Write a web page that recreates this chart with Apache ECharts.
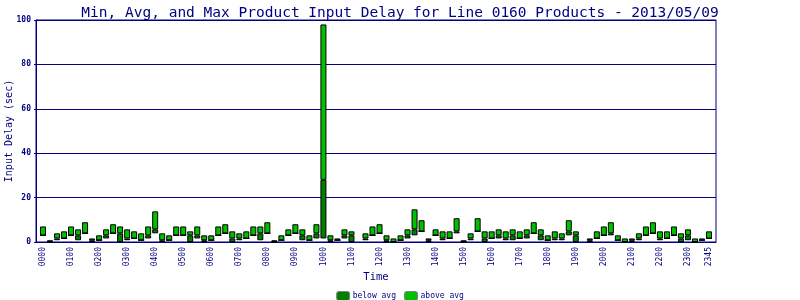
<!DOCTYPE html>
<html>
<head>
<meta charset="utf-8">
<script src="https://cdn.jsdelivr.net/npm/echarts@6/dist/echarts.min.js"></script>
<style>
html,body{margin:0;padding:0;background:#fff;}
#chart{width:800px;height:300px;}
</style>
</head>
<body>
<div id="chart"></div>
<script>
var times = ["0000","0015","0030","0045","0100","0115","0130","0145","0200","0215","0230","0245",
"0300","0315","0330","0345","0400","0415","0430","0445","0500","0515","0530","0545",
"0600","0615","0630","0645","0700","0715","0730","0745","0800","0815","0830","0845",
"0900","0915","0930","0945","1000","1015","1030","1045","1100","1115","1130","1145",
"1200","1215","1230","1245","1300","1315","1330","1345","1400","1415","1430","1445",
"1500","1515","1530","1545","1600","1615","1630","1645","1700","1715","1730","1745",
"1800","1815","1830","1845","1900","1915","1930","1945","2000","2015","2030","2045",
"2100","2115","2130","2145","2200","2215","2230","2245","2300","2315","2330","2345"];

var tickLabels = ["0000","0100","0200","0300","0400","0500","0600","0700","0800","0900","1000","1100",
"1200","1300","1400","1500","1600","1700","1800","1900","2000","2100","2200","2300","2345"];

var minVals = [3,0,0.8,1.6,3,0.8,3.9,0,0.8,1.6,3.9,0,
0.8,1.6,0.8,1.6,3.9,0,0.8,3,3,0,1.6,0,
0.8,3,3.9,0,0.8,1.6,3,0.8,3.9,0,0.8,3,
3.9,0.8,0.8,1.6,1.6,0,0.8,1.6,0,null,0.8,3,
3.9,0,0,0.8,1.6,3,4.8,0,3,0.8,1.6,3.9,
0,0.8,4.8,0,1.6,1.6,0.8,0.8,1.6,1.6,3.9,0.8,
0.8,0.8,0.8,3,0,null,0,1.6,3,3,0.8,0,
0,0.8,3,3.9,0.8,1.6,3,0,0.8,0,0.8,1.6];

var avgVals = [3,0,1.6,1.6,3,3,3.9,0.8,0.8,3,3.9,3.9,
1.6,1.6,0.8,3,5.7,0.8,0.8,3,3,3,3,0.8,
0.8,3,3.9,1.6,1.6,1.6,3,3.9,3.9,0,0.8,3,
3.9,3,0.8,3.9,28,0.8,0.8,3,3,null,1.6,3,
3.9,0.8,0,0.8,3,5.7,4.8,0.8,3,1.6,1.6,4.8,
0,1.6,4.8,1.6,1.6,3,1.6,3,1.6,3,3.9,3,
0.8,1.6,1.6,4.8,3,null,0.8,1.6,3,3.9,0.8,0,
0.8,1.6,3,3.9,1.6,1.6,3,1.6,3,0,0.8,1.6];

var maxVals = [7,0.8,3.9,4.8,7,5.7,8.9,1.6,3,5.7,8,7,
5.7,4.8,3.9,7,13.8,3.9,3,7,7,4.8,7,3,
3,7,8,4.8,3.9,4.8,7,7,8.9,0.8,3,5.7,
8,5.7,3,8,98,3,1.6,5.7,4.8,null,3.9,7,
8,3,1.6,3,5.7,14.7,9.8,1.6,5.7,4.8,4.8,10.7,
0.8,3.9,10.7,4.8,4.8,5.7,4.8,5.7,4.8,5.7,8.9,5.7,
3,4.8,3.9,9.8,4.8,null,1.6,4.8,7,8.9,3,1.6,
1.6,3.9,7,8.9,4.8,4.8,7,3.9,5.7,1.6,1.6,4.8];

var NAVY = '#000080';
var DARK = '#008000';
var LIGHT = '#00c000';
var MONO = '"DejaVu Sans Mono", "Liberation Mono", monospace';

var cats = [''].concat(times).concat([' ']);
function pad(arr){ return [null].concat(arr).concat([null]); }
var baseData = pad(minVals.map(function(v){ return v; }));
var belowData = pad(minVals.map(function(v,i){ return v == null ? null : +(avgVals[i]-v).toFixed(2); }));
var aboveData = pad(maxVals.map(function(v,i){ return v == null ? null : +(v-avgVals[i]).toFixed(2); }));

var chart = echarts.init(document.getElementById('chart'), null, {renderer:'canvas'});
var showLabel = function(idx, val){ return tickLabels.indexOf(val) >= 0; };

chart.setOption({
  animation: false,
  backgroundColor: '#ffffff',
  title: {
    text: 'Min, Avg, and Max Product Input Delay for Line 0160 Products - 2013/05/09',
    left: 'center', top: 1,
    textStyle: {fontFamily: MONO, fontSize: 14.5, fontWeight: 'normal', color: NAVY}
  },
  legend: {
    data: ['below avg','above avg'],
    left: 'center', top: 291, padding: 0,
    itemWidth: 13, itemHeight: 9, itemGap: 8,
    textStyle: {fontFamily: MONO, fontSize: 8, color: NAVY, padding: [0,0,0,-2]},
    itemStyle: {borderColor: '#808080', borderWidth: 1}
  },
  grid: {left: 36, right: 84, top: 20, bottom: 58, containLabel: false, outerBoundsMode: 'none',
         show: true, borderColor: NAVY, borderWidth: 1, backgroundColor: 'transparent'},
  xAxis: {
    type: 'category',
    data: cats,
    boundaryGap: false,
    name: 'Time', nameLocation: 'middle', nameGap: 30, nameMoveOverlap: false,
    nameTextStyle: {fontFamily: MONO, fontSize: 10.5, color: NAVY},
    axisLine: {lineStyle: {color: NAVY, width: 1}},
    axisTick: {show: false},
    axisLabel: {interval: showLabel, rotate: 90, fontFamily: MONO, fontSize: 8, color: NAVY, margin: 5},
    splitLine: {show: false}
  },
  yAxis: {
    type: 'value', min: 0, max: 100, interval: 20,
    name: 'Input Delay (sec)', nameLocation: 'middle', nameGap: 22, nameMoveOverlap: false,
    nameTextStyle: {fontFamily: MONO, fontSize: 10, color: NAVY},
    axisLine: {show: true, lineStyle: {color: NAVY, width: 1}},
    axisTick: {show: true, length: 2, lineStyle: {color: NAVY}},
    axisLabel: {fontFamily: MONO, fontSize: 8, fontWeight: 'bold', color: NAVY, margin: 5},
    splitLine: {show: true, lineStyle: {color: NAVY, width: 1}}
  },
  series: [
    {name: 'base', type: 'bar', stack: 'd', data: baseData, barWidth: 6,
     itemStyle: {color: 'transparent', borderWidth: 0}, silent: true},
    {name: 'below avg', type: 'bar', stack: 'd', data: belowData, barWidth: 6,
     itemStyle: {color: DARK, borderColor: '#000', borderWidth: 1}},
    {name: 'above avg', type: 'bar', stack: 'd', data: aboveData, barWidth: 6,
     itemStyle: {color: LIGHT, borderColor: '#000', borderWidth: 1}}
  ]
});
</script>
</body>
</html>
